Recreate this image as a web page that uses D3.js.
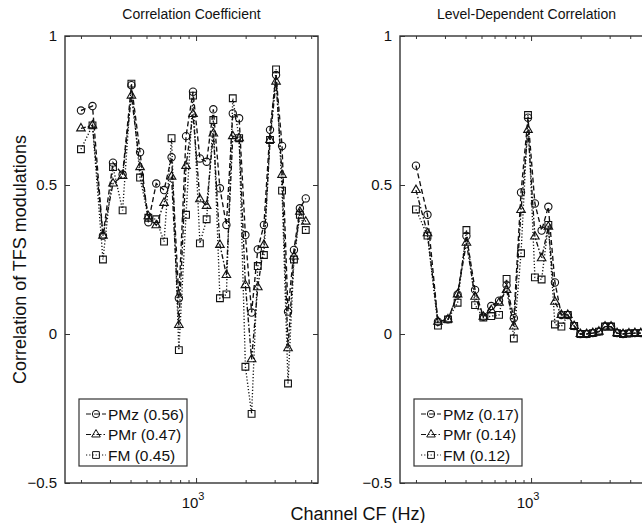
<!DOCTYPE html>
<html lang="en">
<head>
<meta charset="UTF-8">
<title>Correlation of TFS modulations</title>
<script src="https://d3js.org/d3.v7.min.js"></script>
<style>
  body { margin: 0; background: #fff; }
  svg { display: block; font-family: "Liberation Sans", Arial, sans-serif; }
  .tick text { font-size: 15px; fill: #111; }
  .tick line { stroke: #333; stroke-width: 1; }
  .frame { fill: none; stroke: #333; stroke-width: 1.4; }
  .title { font-size: 14px; fill: #111; text-anchor: middle; }
  .axlabel { font-size: 18px; fill: #111; text-anchor: middle; }
  .legbox { fill: #fff; stroke: #333; stroke-width: 1.2; }
  .legtext { font-size: 15.5px; fill: #111; }
</style>
</head>
<body>
<svg id="chart" width="642" height="523"></svg>
<script>
// channel centre frequencies (Hz)
const cf = [200, 235, 272, 313, 358, 405, 457, 513, 573, 639, 710, 786,
            869, 958, 1055, 1159, 1273, 1396, 1528, 1671, 1826, 1993, 2174, 2370,
            2582, 2812, 3059, 3327, 3617, 3930, 4269, 4636];

// left panel: correlation coefficient
const pmzCC = [0.75, 0.765, 0.33, 0.575, 0.535, 0.835, 0.61, 0.375, 0.505, 0.483, 0.593, 0.12,
               0.664, 0.813, 0.589, 0.578, 0.754, 0.489, 0.366, 0.74, 0.724, 0.332, 0.072, 0.284,
               0.366, 0.685, 0.869, 0.631, 0.075, 0.282, 0.422, 0.455];
const pmrCC = [0.69, 0.70, 0.33, 0.505, 0.53, 0.80, 0.56, 0.395, 0.365, 0.44, 0.528, 0.03,
               0.564, 0.738, 0.452, 0.43, 0.673, 0.299, 0.198, 0.664, 0.657, 0.164, -0.085, 0.157,
               0.299, 0.651, 0.847, 0.534, -0.048, 0.26, 0.41, 0.377];
const fmCC  = [0.62, 0.70, 0.25, 0.56, 0.415, 0.84, 0.525, 0.39, 0.385, 0.31, 0.657, -0.054,
               0.40, 0.80, 0.304, 0.385, 0.718, 0.12, 0.133, 0.791, 0.657, -0.11, -0.268, 0.228,
               0.265, 0.651, 0.888, 0.481, -0.166, 0.25, 0.40, 0.349];

// right panel: level-dependent correlation
const pmzLD = [0.565, 0.40, 0.041, 0.049, 0.133, 0.329, 0.148, 0.058, 0.094, 0.112, 0.164, 0.053,
               0.475, 0.726, 0.438, 0.347, 0.427, 0.173, 0.064, 0.064, 0.027, 0.0, 0.0, 0.003,
               0.008, 0.025, 0.025, 0.003, 0.0, 0.002, 0.003, 0.003];
const pmrLD = [0.483, 0.338, 0.041, 0.049, 0.133, 0.306, 0.125, 0.058, 0.08, 0.105, 0.148, 0.025,
               0.416, 0.685, 0.327, 0.254, 0.36, 0.108, 0.064, 0.064, 0.027, 0.0, 0.0, 0.003,
               0.008, 0.025, 0.025, 0.003, 0.0, 0.002, 0.003, 0.003];
const fmLD  = [0.418, 0.33, 0.028, 0.049, 0.105, 0.349, 0.097, 0.055, 0.06, 0.064, 0.185, -0.015,
               0.271, 0.735, 0.19, 0.183, 0.366, 0.032, 0.025, 0.064, 0.027, 0.0, 0.0, 0.003,
               0.008, 0.025, 0.025, 0.003, 0.0, 0.002, 0.003, 0.003];

const seriesNames = ["PMz", "PMr", "FM"];
const legendCC = ["PMz (0.56)", "PMr (0.47)", "FM (0.45)"];
const legendLD = ["PMz (0.17)", "PMr (0.14)", "FM (0.12)"];
const titles = ["Correlation Coefficient", "Level-Dependent Correlation"];

const xDomain = [160, 5500];
const yDomain = [-0.5, 1];
const xMinorTicks = [200, 300, 400, 500, 600, 700, 800, 900, 2000, 3000, 4000, 5000];
const xMajorTicks = [1000];
const yTicks = [-0.5, 0, 0.5, 1];

// --- layout
const svg = d3.select("#chart");
const plotTop = 36, plotBottom = 483, pw = 253;
const lefts = [65, 400];

const x = d3.scaleLog().domain(xDomain).range([0, pw]);
const y = d3.scaleLinear().domain(yDomain).range([plotBottom, plotTop]);

const styles = {
  PMz: { dash: "5,3", symbol: d3.symbolCircle, size: 42 },
  PMr: { dash: "5,2,1.5,2", symbol: d3.symbolTriangle, size: 32 },
  FM:  { dash: "1.2,2", symbol: d3.symbolSquare, size: 46 }
};

const panelData = [
  { series: [pmzCC, pmrCC, fmCC], legend: legendCC },
  { series: [pmzLD, pmrLD, fmLD], legend: legendLD }
];

const line = d3.line().x(d => x(d[0])).y(d => y(d[1]));

panelData.forEach((p, pi) => {
  const g = svg.append("g").attr("transform", `translate(${lefts[pi]},0)`);

  // ticks, inward like matlab
  const fmt = d => d === 0 ? "0" : d === 1 ? "1" : d3.format("")(d);
  g.append("g").attr("transform", `translate(0,${plotBottom})`)
    .call(d3.axisBottom(x).tickValues(xMinorTicks).tickSize(-3).tickFormat(""));
  g.append("g").attr("transform", `translate(0,${plotBottom})`)
    .call(d3.axisBottom(x).tickValues(xMajorTicks).tickSize(-5).tickFormat(""));
  g.append("g").attr("transform", `translate(0,${plotTop})`)
    .call(d3.axisTop(x).tickValues(xMinorTicks).tickSize(-3).tickFormat(""));
  g.append("g").attr("transform", `translate(0,${plotTop})`)
    .call(d3.axisTop(x).tickValues(xMajorTicks).tickSize(-5).tickFormat(""));
  g.append("g")
    .call(d3.axisLeft(y).tickValues(yTicks).tickSize(-5).tickPadding(8).tickFormat(fmt));
  g.append("g").attr("transform", `translate(${pw},0)`)
    .call(d3.axisRight(y).tickValues(yTicks).tickSize(-5).tickFormat(""));
  g.selectAll(".domain").remove();

  // 10^3 label
  xMajorTicks.forEach(t => {
    const lab = g.append("text").attr("x", x(t) - 3).attr("y", 508)
      .attr("text-anchor", "middle").style("font-size", "15px").attr("fill", "#111");
    lab.append("tspan").text("10");
    lab.append("tspan").attr("dy", -8).style("font-size", "11px").text(Math.round(Math.log10(t)));
  });

  // data
  const clipId = "clip" + pi;
  g.append("clipPath").attr("id", clipId).append("rect")
    .attr("x", -6).attr("y", plotTop - 6).attr("width", pw + 12).attr("height", plotBottom - plotTop + 12);
  const plot = g.append("g").attr("clip-path", `url(#${clipId})`);

  p.series.forEach((vals, si) => {
    const st = styles[seriesNames[si]];
    const pts = cf.map((c, i) => [c, vals[i]]);
    plot.append("path").datum(pts)
      .attr("d", line).attr("fill", "none").attr("stroke", "#111")
      .attr("stroke-width", 1.35).attr("stroke-dasharray", st.dash);
    plot.selectAll(null).data(pts).enter().append("path")
      .attr("d", d3.symbol().type(st.symbol).size(st.size))
      .attr("transform", d => `translate(${x(d[0])},${y(d[1])})`)
      .attr("fill", "none").attr("stroke", "#111").attr("stroke-width", 1.1);
  });

  // frame
  g.append("rect").attr("class", "frame").attr("x", 0).attr("y", plotTop)
    .attr("width", pw).attr("height", plotBottom - plotTop);

  // title
  g.append("text").attr("class", "title").attr("x", pw / 2).attr("y", 19).text(titles[pi]);

  // legend
  const lg = g.append("g").attr("transform", "translate(14,399)");
  lg.append("rect").attr("class", "legbox").attr("width", 108).attr("height", 67);
  p.legend.forEach((txt, li) => {
    const st = styles[seriesNames[li]];
    const ry = 15 + li * 20.5;
    lg.append("line").attr("x1", 7).attr("x2", 27).attr("y1", ry).attr("y2", ry)
      .attr("stroke", "#111").attr("stroke-width", 1.2).attr("stroke-dasharray", st.dash);
    lg.append("path").attr("d", d3.symbol().type(st.symbol).size(st.size))
      .attr("transform", `translate(17,${ry})`)
      .attr("fill", "none").attr("stroke", "#111");
    lg.append("text").attr("class", "legtext").attr("x", 29).attr("y", ry + 5.5).text(txt);
  });
});

// axis labels
svg.append("text").attr("class", "axlabel")
  .attr("transform", `translate(26,${(plotTop + plotBottom) / 2}) rotate(-90)`)
  .text("Correlation of TFS modulations");
svg.append("text").attr("class", "axlabel").attr("x", 358).attr("y", 520)
  .text("Channel CF (Hz)");
</script>
</body>
</html>
